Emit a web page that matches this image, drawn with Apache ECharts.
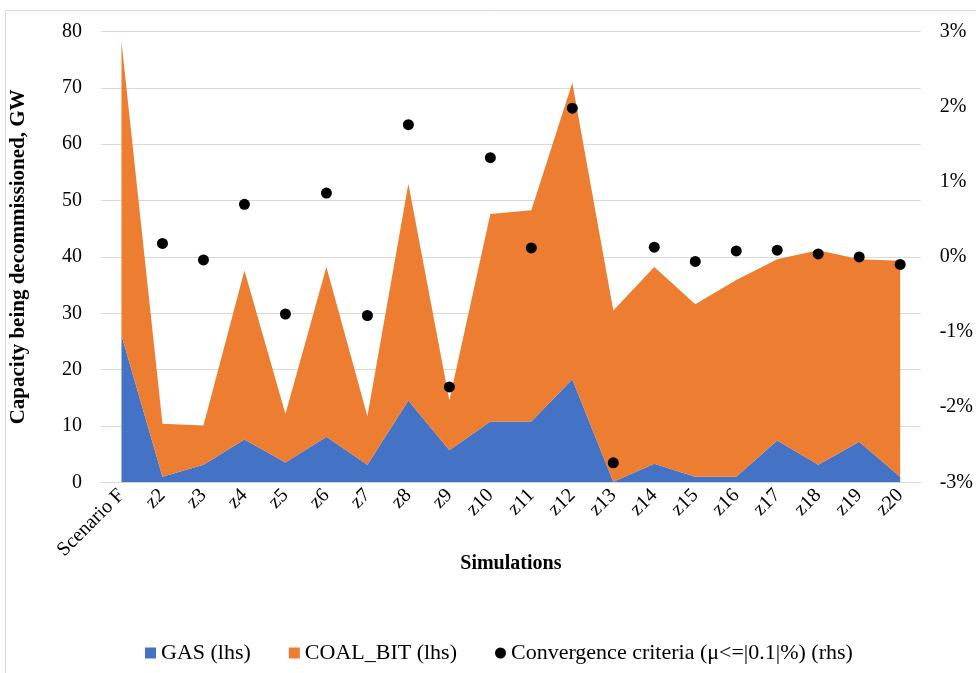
<!DOCTYPE html>
<html>
<head>
<meta charset="utf-8">
<script src="https://cdn.jsdelivr.net/npm/echarts@6/dist/echarts.min.js"></script>
<style>
html,body{margin:0;padding:0;background:#fff;}
#chart{width:976px;height:673px;}
</style>
</head>
<body>
<div id="chart"></div>
<script>
var categories = ['Scenario F','z2','z3','z4','z5','z6','z7','z8','z9','z10','z11','z12','z13','z14','z15','z16','z17','z18','z19','z20'];
var gas = [26.1, 1.0, 3.1, 7.6, 3.5, 8.1, 3.1, 14.5, 5.7, 10.8, 10.8, 18.3, 0.1, 3.3, 1.0, 1.0, 7.4, 3.1, 7.2, 1.0];
var coalBit = [52.1, 9.4, 7.0, 30.0, 8.6, 30.1, 8.6, 38.5, 8.8, 36.8, 37.5, 52.6, 30.4, 34.9, 30.6, 34.9, 32.2, 38.1, 32.4, 38.3];
var convergence = [null, 0.18, -0.04, 0.70, -0.76, 0.85, -0.78, 1.76, -1.73, 1.32, 0.12, 1.98, -2.74, 0.13, -0.06, 0.08, 0.09, 0.04, 0.00, -0.10];

var FONT = "'Liberation Serif', 'Times New Roman', serif";
var chart = echarts.init(document.getElementById('chart'));
chart.setOption({
  animation: false,
  textStyle: {fontFamily: FONT, color: '#000'},
  graphic: [{
    type: 'rect', silent: true,
    shape: {x: 5.5, y: 10.5, width: 1000, height: 700},
    style: {fill: 'none', stroke: '#d9d9d9', lineWidth: 1}
  }],
  grid: {left: 100, right: 55, top: 31.5, bottom: 190.7},
  legend: {
    bottom: 4, left: 140, itemWidth: 11, itemHeight: 11, itemGap: 38,
    textStyle: {fontFamily: FONT, fontSize: 22, color: '#000'},
    data: [
      {name: 'GAS (lhs)', icon: 'rect'},
      {name: 'COAL_BIT (lhs)', icon: 'rect'},
      {name: 'Convergence criteria (\u03bc<=|0.1|%) (rhs)', icon: 'circle', itemStyle: {opacity: 1}}
    ]
  },
  xAxis: {
    type: 'category', data: categories, boundaryGap: true,
    name: 'Simulations', nameLocation: 'middle', nameGap: 72, nameMoveOverlap: false,
    nameTextStyle: {fontFamily: FONT, fontSize: 20, fontWeight: 'bold', color: '#000'},
    axisLine: {lineStyle: {color: '#d9d9d9'}},
    axisTick: {show: false},
    axisLabel: {rotate: 45, margin: 10, fontFamily: FONT, fontSize: 20, color: '#000', interval: 0}
  },
  yAxis: [{
    type: 'value', min: 0, max: 80, interval: 10,
    name: 'Capacity being decommissioned, GW', nameLocation: 'middle', nameGap: 72,
    nameTextStyle: {fontFamily: FONT, fontSize: 21, fontWeight: 'bold', color: '#000'},
    axisLine: {show: false}, axisTick: {show: false},
    axisLabel: {margin: 19, fontFamily: FONT, fontSize: 20, color: '#000'},
    splitLine: {lineStyle: {color: '#d9d9d9', width: 1}}
  }, {
    type: 'value', min: -3, max: 3, interval: 1, position: 'right',
    axisLine: {show: false}, axisTick: {show: false},
    axisLabel: {margin: 19, fontFamily: FONT, fontSize: 20, color: '#000', formatter: '{value}%'},
    splitLine: {show: false}
  }],
  series: [{
    name: 'GAS (lhs)', type: 'line', stack: 'cap', data: gas,
    symbol: 'none', lineStyle: {width: 0}, itemStyle: {color: '#4472C4'},
    areaStyle: {color: '#4472C4', opacity: 1}
  }, {
    name: 'COAL_BIT (lhs)', type: 'line', stack: 'cap', data: coalBit,
    symbol: 'none', lineStyle: {width: 0}, itemStyle: {color: '#ED7D31'},
    areaStyle: {color: '#ED7D31', opacity: 1}
  }, {
    name: 'Convergence criteria (\u03bc<=|0.1|%) (rhs)', type: 'scatter', yAxisIndex: 1,
    data: convergence, symbolSize: 11, itemStyle: {color: '#000', opacity: 1}, z: 5
  }]
});
</script>
</body>
</html>
